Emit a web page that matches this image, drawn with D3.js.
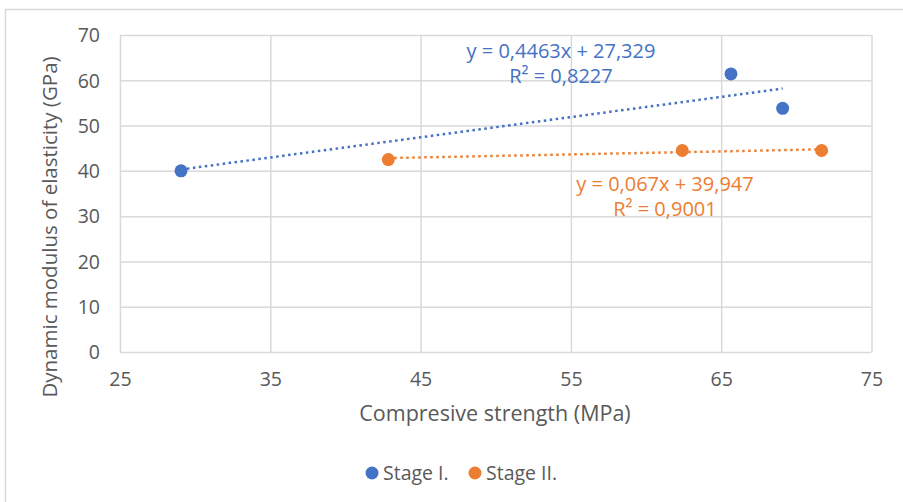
<!DOCTYPE html>
<html>
<head>
<meta charset="utf-8">
<script src="https://cdn.jsdelivr.net/npm/d3@7"></script>
<style>
  html, body { margin: 0; padding: 0; background: #fff; }
  svg { display: block; }
  text { font-family: "Open Sans", "Liberation Sans", sans-serif; }
</style>
</head>
<body>
<svg id="chart" width="903" height="502"></svg>
<script>
// ---- data ----
const seriesNames = ["Stage I.", "Stage II."];
const stage1X = [29.06, 65.65, 69.09];
const stage1Y = [40.0, 61.4, 53.8];
const stage2X = [42.85, 62.41, 71.68];
const stage2Y = [42.5, 44.5, 44.5];
const trendSlopes = [0.4463, 0.067];
const trendIntercepts = [27.329, 39.947];
const equationLabels = ["y = 0,4463x + 27,329", "y = 0,067x + 39,947"];
const r2Labels = ["R² = 0,8227", "R² = 0,9001"];
const xTicks = [25, 35, 45, 55, 65, 75];
const yTicks = [0, 10, 20, 30, 40, 50, 60, 70];
const colors = ["#4472C4", "#ED7D31"];

const svg = d3.select("#chart");
const textColor = "#595959";
const gridColor = "#d9d9d9";

// outer chart border
svg.append("rect").attr("x", 5.5).attr("y", 9.5).attr("width", 920).attr("height", 520)
  .attr("fill", "#fff").attr("stroke", gridColor).attr("stroke-width", 1.5);

const pL = 120, pR = 871.5, pT = 35, pB = 352;
const x = d3.scaleLinear().domain([25, 75]).range([pL, pR]);
const y = d3.scaleLinear().domain([0, 70]).range([pB, pT]);

// grid + ticks
const gx = svg.append("g").attr("transform", `translate(0,${pB})`)
  .call(d3.axisBottom(x).tickValues(xTicks).tickSize(-(pB - pT)).tickFormat(d3.format("d")).tickPadding(0));
gx.select(".domain").remove();
gx.selectAll(".tick line").attr("stroke", gridColor).attr("stroke-width", 1.5);
gx.selectAll(".tick text").attr("fill", textColor).attr("font-size", 19.5)
  .attr("y", 27).attr("dy", "0.35em");

const gy = svg.append("g").attr("transform", `translate(${pL},0)`)
  .call(d3.axisLeft(y).tickValues(yTicks).tickSize(-(pR - pL)).tickFormat(d3.format("d")).tickPadding(0));
gy.select(".domain").remove();
gy.selectAll(".tick line").attr("stroke", gridColor).attr("stroke-width", 1.5);
gy.selectAll(".tick text").attr("fill", textColor).attr("font-size", 19.5)
  .attr("x", -20).attr("dy", "0.35em");

// axis titles
svg.append("text").attr("x", 495).attr("y", 421).attr("text-anchor", "middle")
  .attr("fill", textColor).attr("font-size", 21.5).text("Compresive strength (MPa)");
svg.append("text").attr("transform", "translate(57,227) rotate(-90)").attr("text-anchor", "middle")
  .attr("fill", textColor).attr("font-size", 20.5).text("Dynamic modulus of elasticity (GPa)");

const seriesX = [stage1X, stage2X];
const seriesY = [stage1Y, stage2Y];

// trendlines
seriesX.forEach((xs, i) => {
  const x0 = d3.min(xs), x1 = d3.max(xs);
  svg.append("line")
    .attr("x1", x(x0)).attr("y1", y(trendSlopes[i] * x0 + trendIntercepts[i]))
    .attr("x2", x(x1)).attr("y2", y(trendSlopes[i] * x1 + trendIntercepts[i]))
    .attr("stroke", colors[i]).attr("stroke-width", 2.5).attr("stroke-dasharray", "2.5 3.5");
});

// points
seriesX.forEach((xs, i) => {
  svg.append("g").selectAll("circle").data(xs.map((v, j) => [v, seriesY[i][j]])).join("circle")
    .attr("cx", d => x(d[0])).attr("cy", d => y(d[1])).attr("r", 6.5).attr("fill", colors[i]);
});

// equation labels
const eqPos = [[561, 58, 83], [665, 191, 216]];
equationLabels.forEach((t, i) => {
  svg.append("text").attr("x", eqPos[i][0]).attr("y", eqPos[i][1]).attr("text-anchor", "middle")
    .attr("fill", colors[i]).attr("font-size", 20).text(t);
  svg.append("text").attr("x", eqPos[i][0]).attr("y", eqPos[i][2]).attr("text-anchor", "middle")
    .attr("fill", colors[i]).attr("font-size", 20).text(r2Labels[i]);
});

// legend
const legX = [372, 475];
seriesNames.forEach((n, i) => {
  svg.append("circle").attr("cx", legX[i]).attr("cy", 473).attr("r", 6.5).attr("fill", colors[i]);
  svg.append("text").attr("x", legX[i] + 11).attr("y", 480).attr("fill", textColor)
    .attr("font-size", 19.5).text(n);
});
</script>
</body>
</html>
